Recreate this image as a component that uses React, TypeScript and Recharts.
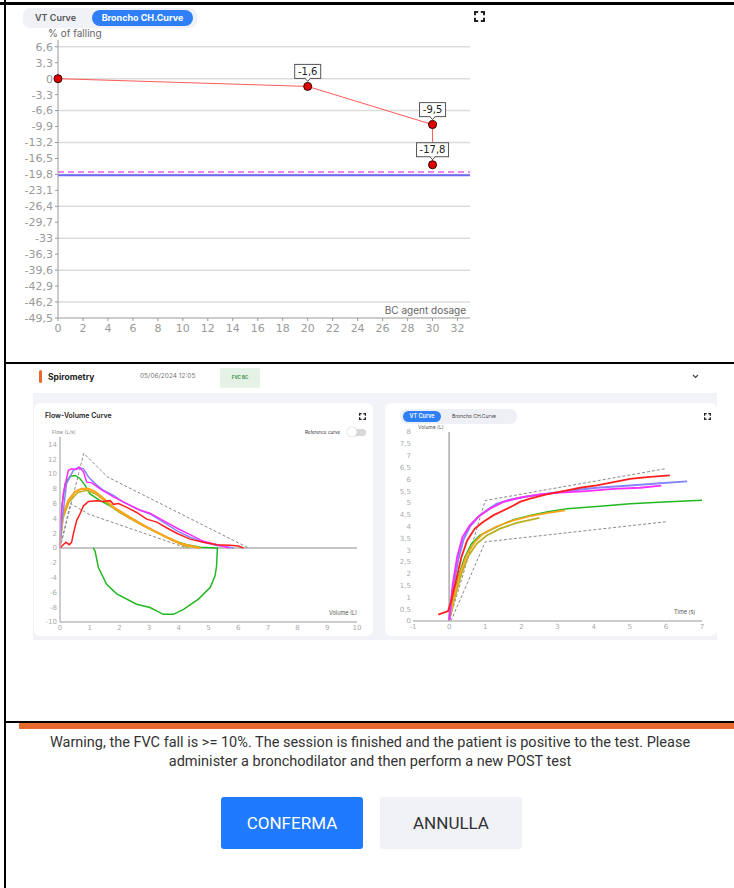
import { LineChart, Line, XAxis, YAxis, ReferenceLine, LabelList } from 'recharts';

// --- Broncho challenge curve (top) ---
const DOSAGE = [0, 20, 30, 30];
const FALLING = [0, -1.6, -9.5, -17.8];
const FALL_TICKS = [6.6, 3.3, 0, -3.3, -6.6, -9.9, -13.2, -16.5, -19.8, -23.1, -26.4, -29.7, -33, -36.3, -39.6, -42.9, -46.2, -49.5];
const FALL_GRID = [6.6, 0, -6.6, -13.2, -19.8, -26.4, -33, -39.6, -46.2];
const DOSAGE_TICKS = [0, 2, 4, 6, 8, 10, 12, 14, 16, 18, 20, 22, 24, 26, 28, 30, 32];
const FALL_THRESHOLD = -20;
const FALL_LIMIT = -19.3;

// --- Flow-volume curves: [volume L, flow L/s] ---
const FV_VOL_TICKS = [0, 1, 2, 3, 4, 5, 6, 7, 8, 9, 10];
const FV_FLOW_TICKS = [14, 12, 10, 8, 6, 4, 2, 0, -2, -4, -6, -8, -10];
const FV_REF_UPPER = [[0, 0], [0.8, 12.8], [1.6, 9.6], [6.35, 0]];
const FV_REF_LOWER = [[0, 0], [0.35, 6.0], [0.98, 4.55], [4.27, 0]];
const FV_BLUE = [[0, 0], [0.06, 3.3], [0.22, 8.7], [0.45, 10.5], [0.62, 10.9], [0.79, 10.7], [0.96, 9.6], [1.18, 8.7], [1.46, 7.8], [1.8, 7.1], [2.13, 6.2], [2.58, 5.3], [3.03, 4.6], [3.48, 3.5], [3.93, 2.35], [4.38, 1.45], [4.83, 0.77], [5.28, 0.32], [5.73, 0.1], [5.84, 0]];
const FV_MAGENTA = [[0, 0], [0.02, 3.7], [0.11, 7.3], [0.28, 10.5], [0.39, 10.7], [0.56, 10.6], [0.65, 10.9], [0.79, 10.3], [0.9, 8.9], [1.07, 8.8], [1.35, 8.0], [1.8, 6.9], [2.25, 6.0], [2.7, 5.1], [3.03, 4.7], [3.48, 3.7], [3.93, 2.7], [4.38, 1.8], [4.83, 0.9], [5.28, 0.45], [5.62, 0.1], [5.7, 0]];
const FV_GREEN = [[0, 0], [0.06, 5.5], [0.17, 8.7], [0.34, 9.7], [0.51, 9.8], [0.67, 9.4], [0.84, 8.5], [1.01, 7.3], [1.35, 6.4], [1.69, 5.7], [2.02, 4.8], [2.47, 3.9], [2.92, 2.8], [3.37, 1.9], [3.82, 1.0], [4.27, 0.45], [4.72, 0.1], [5.22, 0], [5.3, 0], [5.27, -2.5], [5.22, -3.75], [5.06, -5.3], [4.66, -6.9], [4.16, -8.3], [3.82, -8.96], [3.48, -8.96], [3.03, -8.05], [2.58, -7.6], [1.91, -6.2], [1.57, -4.9], [1.29, -2.6], [1.18, -0.4], [1.12, 0]];
const FV_ORANGE = [[0, 0], [0.02, 1.9], [0.11, 4.6], [0.28, 6.4], [0.51, 7.6], [0.73, 8.0], [0.96, 8.0], [1.18, 7.6], [1.46, 6.7], [1.8, 5.5], [2.25, 4.4], [2.7, 3.3], [3.15, 2.35], [3.6, 1.45], [4.04, 0.63], [4.49, 0.18], [4.72, 0]];
const FV_OLIVE = [[0, 0], [0.1, 4.0], [0.3, 6.2], [0.6, 7.5], [0.9, 7.8], [1.2, 7.3], [1.5, 6.4], [1.9, 5.1], [2.3, 4.1], [2.8, 3.0], [3.3, 2.0], [3.8, 1.0], [4.2, 0.3], [4.35, 0]];
const FV_RED = [[0, 0], [0.11, 0.45], [0.2, 0.77], [0.31, 0.45], [0.39, 0.77], [0.45, 1.9], [0.56, 3.7], [0.67, 4.6], [0.79, 5.7], [0.96, 6.3], [1.24, 6.4], [1.46, 6.3], [1.69, 6.4], [1.8, 5.9], [1.97, 6.0], [2.25, 5.5], [2.58, 4.8], [2.92, 3.9], [3.26, 3.5], [3.6, 2.7], [3.93, 2.0], [4.38, 1.2], [4.83, 0.77], [5.28, 0.45], [5.73, 0.36], [6.01, 0.27], [6.18, 0]];

// --- Volume-time curves: [time s, volume L] ---
const VT_TIME_TICKS = [-1, 0, 1, 2, 3, 4, 5, 6, 7];
const VT_VOL_TICKS = [0, 0.5, 1, 1.5, 2, 2.5, 3, 3.5, 4, 4.5, 5, 5.5, 6, 6.5, 7, 7.5, 8];
const VT_REF_UPPER = [[0, 0], [1, 5.1], [6, 6.45]];
const VT_REF_LOWER = [[0.05, 0], [1, 3.35], [6, 4.2]];
const VT_BLUE = [[0, 0], [0.11, 1.44], [0.25, 2.57], [0.39, 3.41], [0.57, 3.98], [0.8, 4.4], [1.04, 4.68], [1.31, 4.96], [1.68, 5.13], [2.15, 5.27], [2.7, 5.39], [3.26, 5.5], [4.09, 5.64], [5.01, 5.74], [5.94, 5.84], [6.59, 5.91]];
const VT_MAGENTA = [[0, 0], [0.09, 1.44], [0.22, 2.7], [0.37, 3.55], [0.57, 4.05], [0.85, 4.47], [1.13, 4.75], [1.5, 5.04], [1.96, 5.22], [2.52, 5.36], [3.07, 5.43], [3.81, 5.5], [4.55, 5.59], [5.29, 5.64], [5.87, 5.73]];
const VT_RED = [[-0.3, 0.27], [-0.03, 0.42], [0.06, 0.87], [0.19, 1.72], [0.34, 2.7], [0.5, 3.41], [0.71, 3.91], [0.94, 4.19], [1.22, 4.47], [1.5, 4.68], [1.78, 4.89], [1.96, 5.04], [2.24, 5.18], [2.7, 5.36], [3.16, 5.5], [3.63, 5.64], [4.09, 5.74], [4.55, 5.88], [5.01, 6.02], [5.48, 6.09], [6.11, 6.16]];
const VT_GREEN = [[0, 0], [0.11, 1.02], [0.25, 1.86], [0.43, 2.7], [0.62, 3.27], [0.85, 3.62], [1.13, 3.84], [1.41, 4.05], [1.78, 4.29], [2.24, 4.47], [2.7, 4.61], [3.26, 4.75], [4.09, 4.85], [5.01, 4.96], [5.94, 5.04], [7.0, 5.11]];
const VT_ORANGE = [[0, 0], [0.13, 1.02], [0.3, 2.0], [0.48, 2.78], [0.71, 3.34], [0.94, 3.7], [1.31, 4.0], [1.78, 4.26], [2.24, 4.44], [2.7, 4.57], [3.21, 4.68]];
const VT_OLIVE = [[0, 0], [0.16, 1.02], [0.34, 2.0], [0.53, 2.74], [0.76, 3.27], [1.04, 3.62], [1.41, 3.91], [1.87, 4.15], [2.5, 4.37]];

const REF_GRAY = '#8a8a8a';
const C_BLUE = '#8585ff';
const C_MAGENTA = '#ff2bff';
const C_GREEN = '#22b822';
const C_ORANGE = '#ffa31a';
const C_OLIVE = '#b9b020';
const C_RED = '#ff1f1f';

const fvSeries = [
  { key: 'ru', pts: FV_REF_UPPER, color: REF_GRAY, w: 1, dash: '3 2' },
  { key: 'rl', pts: FV_REF_LOWER, color: REF_GRAY, w: 1, dash: '3 2' },
  { key: 'green', pts: FV_GREEN, color: C_GREEN, w: 1.5 },
  { key: 'olive', pts: FV_OLIVE, color: C_OLIVE, w: 1.5 },
  { key: 'orange', pts: FV_ORANGE, color: C_ORANGE, w: 2.2 },
  { key: 'blue', pts: FV_BLUE, color: C_BLUE, w: 1.5 },
  { key: 'magenta', pts: FV_MAGENTA, color: C_MAGENTA, w: 1.5 },
  { key: 'red', pts: FV_RED, color: C_RED, w: 1.5 },
];

const vtSeries = [
  { key: 'ru', pts: VT_REF_UPPER, color: REF_GRAY, w: 1, dash: '3 2' },
  { key: 'rl', pts: VT_REF_LOWER, color: REF_GRAY, w: 1, dash: '3 2' },
  { key: 'green', pts: VT_GREEN, color: C_GREEN, w: 1.5 },
  { key: 'olive', pts: VT_OLIVE, color: C_OLIVE, w: 1.8 },
  { key: 'orange', pts: VT_ORANGE, color: C_ORANGE, w: 1.8 },
  { key: 'blue', pts: VT_BLUE, color: C_BLUE, w: 2 },
  { key: 'magenta', pts: VT_MAGENTA, color: C_MAGENTA, w: 1.8 },
  { key: 'red', pts: VT_RED, color: C_RED, w: 1.8 },
];

const toXY = (pts: number[][]) => pts.map(([x, y]) => ({ x, y }));
const comma = (v: number) => String(Math.round(v * 10) / 10).replace('.', ',');

const fallData = DOSAGE.map((d, i) => ({ x: d, v: FALLING[i] }));

function ValueTag(props: any) {
  const { x, y, value } = props;
  if (value === 0 || x == null) return null;
  const text = comma(value);
  const w = text.length * 6 + 2;
  const h = 14;
  const top = y - 22;
  return (
    <g>
      <rect x={x - w / 2} y={top} width={w} height={h} fill="#fff" stroke="#555" strokeWidth={1} />
      <path d={`M${x - 3},${top + h - 0.5} L${x},${top + h + 3} L${x + 3},${top + h - 0.5}`} fill="#fff" stroke="#555" strokeWidth={1} />
      <text x={x} y={top + 10.5} textAnchor="middle" fontSize={10} fontFamily="DejaVu Sans" fill="#222">
        {text}
      </text>
    </g>
  );
}

function Corners({ x, y, size, sw = 1.5 }: { x: number; y: number; size: number; sw?: number }) {
  const s = size;
  const a = s * 0.38;
  const o = sw / 2;
  return (
    <svg style={{ position: 'absolute', left: x, top: y }} width={s} height={s}>
      <path
        d={`M${o},${a} V${o} H${a} M${s - a},${o} H${s - o} V${a} M${s - o},${s - a} V${s - o} H${s - a} M${a},${s - o} H${o} V${s - a}`}
        fill="none"
        stroke="#222"
        strokeWidth={sw}
      />
    </svg>
  );
}

const abs = (left: number, top: number, extra: any = {}) => ({ position: 'absolute' as const, left, top, ...extra });

function BronchoChart() {
  const tick = { fill: '#9a9a9a', fontSize: 11, fontFamily: 'DejaVu Sans' };
  return (
    <div style={abs(0, 0)}>
      <LineChart width={490} height={345} data={fallData} margin={{ top: 40, right: 20, left: 0, bottom: 5 }}>
        {FALL_GRID.map((g) => (
          <ReferenceLine key={g} y={g} stroke="#dcdcdc" strokeWidth={1.5} />
        ))}
        <XAxis
          type="number"
          dataKey="x"
          domain={[0, 33]}
          ticks={DOSAGE_TICKS}
          interval={0}
          height={22}
          tickSize={3}
          tickMargin={3}
          tick={tick}
          axisLine={{ stroke: '#999' }}
          tickLine={{ stroke: '#999' }}
        />
        <YAxis
          type="number"
          domain={[-49.5, 8]}
          ticks={FALL_TICKS}
          interval={0}
          width={58}
          tickSize={3}
          tickMargin={2}
          tickFormatter={comma}
          tick={tick}
          axisLine={{ stroke: '#999' }}
          tickLine={{ stroke: '#999' }}
        />
        <ReferenceLine y={FALL_THRESHOLD} stroke="#6a6af5" strokeWidth={2} />
        <ReferenceLine y={FALL_LIMIT} stroke="#ee88ee" strokeWidth={2} strokeDasharray="6 4" />
        <Line
          dataKey="v"
          stroke="#ff5a5a"
          strokeWidth={1}
          isAnimationActive={false}
          dot={{ r: 4, fill: '#e30000', stroke: '#2a0000', strokeWidth: 1 }}
        >
          <LabelList dataKey="v" content={ValueTag} />
        </Line>
      </LineChart>
    </div>
  );
}

function FlowVolumeChart() {
  const tick = { fill: '#aaa', fontSize: 7, fontFamily: 'DejaVu Sans' };
  return (
    <div style={abs(30, 430)}>
      <LineChart width={340} height={205} margin={{ top: 7, right: 13, left: 0, bottom: 1 }}>
        <XAxis
          type="number"
          dataKey="x"
          domain={[0, 10]}
          ticks={FV_VOL_TICKS}
          interval={0}
          height={12}
          tickSize={0}
          tickMargin={3}
          tick={tick}
          axisLine={{ stroke: '#bbb', strokeWidth: 1.5 }}
        />
        <YAxis
          type="number"
          domain={[-10, 15]}
          ticks={FV_FLOW_TICKS}
          interval={0}
          width={30}
          tickSize={0}
          tickMargin={3}
          tick={tick}
          axisLine={{ stroke: '#bbb', strokeWidth: 1.5 }}
        />
        <ReferenceLine y={0} stroke="#c4c4c4" strokeWidth={2} />
        {fvSeries.map((s) => (
          <Line
            key={s.key}
            data={toXY(s.pts)}
            dataKey="y"
            stroke={s.color}
            strokeWidth={s.w}
            strokeDasharray={s.dash}
            dot={false}
            isAnimationActive={false}
          />
        ))}
      </LineChart>
    </div>
  );
}

function VolumeTimeChart() {
  const tick = { fill: '#aaa', fontSize: 7, fontFamily: 'DejaVu Sans' };
  return (
    <div style={abs(380, 425)}>
      <LineChart width={330} height={210} margin={{ top: 7, right: 8, left: 0, bottom: 2 }}>
        <XAxis
          type="number"
          dataKey="x"
          domain={[-1, 7]}
          ticks={VT_TIME_TICKS}
          interval={0}
          height={12}
          tickSize={0}
          tickMargin={3}
          tick={tick}
          axisLine={{ stroke: '#bbb', strokeWidth: 1.5 }}
        />
        <YAxis
          type="number"
          domain={[0, 8]}
          ticks={VT_VOL_TICKS}
          interval={0}
          width={33}
          tickSize={0}
          tickMargin={2}
          tickFormatter={comma}
          tick={tick}
          axisLine={false}
        />
        <ReferenceLine x={0} stroke="#aaa" strokeWidth={1.5} />
        {vtSeries.map((s) => (
          <Line
            key={s.key}
            data={toXY(s.pts)}
            dataKey="y"
            stroke={s.color}
            strokeWidth={s.w}
            strokeDasharray={s.dash}
            dot={false}
            isAnimationActive={false}
          />
        ))}
      </LineChart>
    </div>
  );
}

export default function App() {
  const ui = 'Inter, "Noto Sans", sans-serif';
  return (
    <div style={{ position: 'absolute', left: 0, top: 0, width: 734, height: 888, background: '#fff', overflow: 'hidden', fontFamily: ui }}>
      {/* frame lines */}
      <div style={abs(0, 2, { width: 734, height: 3, background: '#000' })} />
      <div style={abs(4, 0, { width: 2, height: 888, background: '#000' })} />
      <div style={abs(4, 362, { width: 730, height: 2, background: '#000' })} />
      <div style={abs(4, 721, { width: 730, height: 2, background: '#000' })} />
      <div style={abs(19, 723, { width: 715, height: 6, background: '#e8692e' })} />

      {/* top panel */}
      <div style={abs(23, 8, { width: 174, height: 20, borderRadius: 7, background: '#f0f2f7' })} />
      <div style={abs(35, 11, { fontSize: 9, fontWeight: 600, color: '#555', lineHeight: '14px' })}>VT Curve</div>
      <div style={abs(92, 10, { width: 101, height: 16, borderRadius: 8, background: '#2f7ff8', color: '#fff', fontSize: 9, fontWeight: 700, lineHeight: '16px', textAlign: 'center' })}>
        Broncho CH.Curve
      </div>
      <div style={abs(48, 27, { fontSize: 10, color: '#666', lineHeight: '12px' })}>% of falling</div>
      <Corners x={474} y={11} size={11} sw={2} />
      <BronchoChart />
      <div style={abs(340, 304, { width: 126, textAlign: 'right', fontSize: 10, color: '#666', lineHeight: '12px' })}>BC agent dosage</div>

      {/* spirometry header */}
      <div style={abs(39, 370, { width: 3, height: 13, borderRadius: 2, background: '#e8692e' })} />
      <div style={abs(48, 371, { fontSize: 8.5, fontWeight: 700, color: '#222', lineHeight: '12px' })}>Spirometry</div>
      <div style={abs(140, 372, { fontSize: 6.5, color: '#777', lineHeight: '9px' })}>05/06/2024 12:05</div>
      <div style={abs(220, 368, { width: 40, height: 20, borderRadius: 2, background: '#e5f2e6', color: '#3b8f45', fontSize: 4.5, fontWeight: 700, lineHeight: '20px', textAlign: 'center' })}>
        FVC BC
      </div>
      <svg style={abs(692, 374)} width={7} height={5}>
        <path d="M1,1 L3.5,3.5 L6,1" fill="none" stroke="#444" strokeWidth={1.2} />
      </svg>

      {/* cards */}
      <div style={abs(33, 393, { width: 684, height: 247, background: '#f2f3f8' })} />
      <div style={abs(34, 403, { width: 339, height: 233, borderRadius: 6, background: '#fff' })} />
      <div style={abs(385, 403, { width: 332, height: 233, borderRadius: 6, background: '#fff' })} />

      {/* flow-volume card */}
      <div style={abs(45, 411, { fontSize: 7, fontWeight: 600, color: '#222', lineHeight: '10px' })}>Flow-Volume Curve</div>
      <Corners x={359} y={413} size={7} sw={1.3} />
      <div style={abs(52, 429, { fontSize: 5, color: '#888', lineHeight: '7px' })}>Flow (L/s)</div>
      <div style={abs(305, 429, { fontSize: 4.5, color: '#333', lineHeight: '7px' })}>Reference curve</div>
      <div style={abs(348, 429, { width: 18, height: 7, borderRadius: 4, background: '#d8d8dc' })} />
      <div style={abs(347, 427, { width: 10, height: 10, borderRadius: 5, background: '#fff', boxShadow: '0 0 1px #999' })} />
      <FlowVolumeChart />
      <div style={abs(329, 610, { fontSize: 5.5, color: '#555', lineHeight: '7px' })}>Volume (L)</div>

      {/* volume-time card */}
      <div style={abs(400, 409, { width: 117, height: 15, borderRadius: 7, background: '#eef0f6' })} />
      <div style={abs(403, 411, { width: 38, height: 11, borderRadius: 6, background: '#2f7ff8', color: '#fff', fontSize: 5.5, fontWeight: 600, lineHeight: '11px', textAlign: 'center' })}>
        VT Curve
      </div>
      <div style={abs(452, 413, { fontSize: 5, color: '#444', lineHeight: '7px' })}>Broncho CH.Curve</div>
      <Corners x={704} y={413} size={7} sw={1.3} />
      <div style={abs(418, 424, { fontSize: 5, color: '#555', lineHeight: '7px' })}>Volume (L)</div>
      <VolumeTimeChart />
      <div style={abs(674, 609, { fontSize: 5.5, color: '#555', lineHeight: '7px' })}>Time (s)</div>

      {/* warning dialog */}
      <div style={abs(10, 733, { width: 720, textAlign: 'center', fontSize: 14.5, lineHeight: '19px', color: '#333', fontFamily: 'Roboto, sans-serif' })}>
        Warning, the FVC fall is &gt;= 10%. The session is finished and the patient is positive to the test. Please
        <br />
        administer a bronchodilator and then perform a new POST test
      </div>
      <div style={abs(221, 797, { width: 142, height: 52, borderRadius: 3, background: '#1f7aff', color: '#fff', fontSize: 17, lineHeight: '52px', textAlign: 'center', fontFamily: 'Roboto, sans-serif' })}>
        CONFERMA
      </div>
      <div style={abs(380, 797, { width: 142, height: 52, borderRadius: 3, background: '#f1f2f6', color: '#333', fontSize: 17, lineHeight: '52px', textAlign: 'center', fontFamily: 'Roboto, sans-serif' })}>
        ANNULLA
      </div>
    </div>
  );
}
